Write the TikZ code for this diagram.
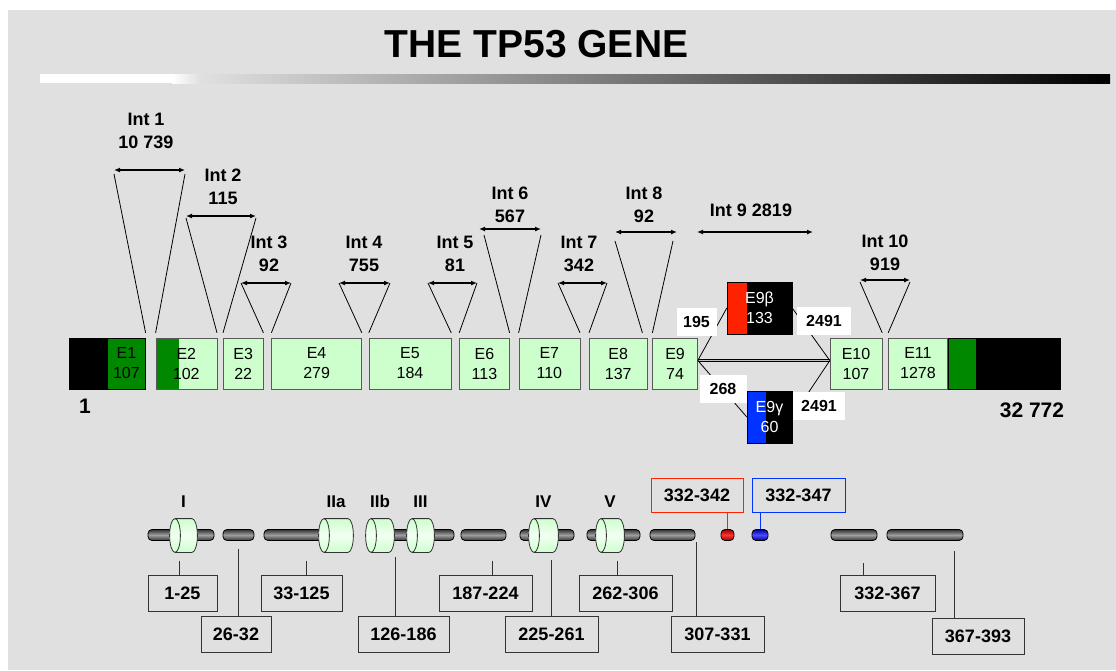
\documentclass[tikz,border=0pt]{standalone}
\usepackage{fontspec}
\setmainfont{Liberation Sans}
\definecolor{tpBack}{HTML}{E0E0E0}
\definecolor{tpExon}{HTML}{CCFFCC}
\definecolor{tpExonEnd}{HTML}{F2FFF2}
\definecolor{tpGreen}{HTML}{008800}
\definecolor{tpRed}{HTML}{FF2200}
\definecolor{tpBlue}{HTML}{0033FF}
\definecolor{tpLine}{HTML}{333333}
\usetikzlibrary{arrows.meta, positioning, shapes.geometric}

\begin{document}
\begin{tikzpicture}[x=1pt, y=-1pt,
  every node/.style={font=\fontsize{16}{20}\selectfont, align=center, inner sep=0pt},
  exon/.style={rectangle, draw=gray!70!black, fill=tpExon, minimum height=51pt},
  utr/.style={rectangle, draw=black, fill=black, minimum height=51pt},
  altex/.style={rectangle, draw=black, fill=black, text=white, minimum height=52pt},
  intlab/.style={font=\fontsize{18}{23}\selectfont\bfseries},
  span/.style={{Latex[length=6pt,width=5pt]}-{Latex[length=6pt,width=5pt]}, line width=1.3pt},
  vline/.style={line width=0.8pt},
  numbox/.style={fill=white, minimum height=28pt, font=\fontsize{16}{18}\selectfont\bfseries},
  rod/.style={rectangle, rounded corners=4pt, draw=black, line width=0.8pt, minimum height=11pt,
              top color=gray!40!black, bottom color=gray!40!black, middle color=gray!75},
  cyl/.style={rectangle, minimum height=35pt,
    path picture={
      \def\pb{path picture bounding box}
      \shadedraw[draw=gray!40!black, line width=0.8pt, top color=tpExon, bottom color=tpExon, middle color=tpExonEnd]
        ([xshift=6pt,yshift=-0.6pt]\pb.north west) -- ([xshift=-6pt,yshift=-0.6pt]\pb.north east)
        arc[start angle=90, end angle=-90, x radius=5.4pt, y radius=16.9pt]
        -- ([xshift=6pt,yshift=0.6pt]\pb.south west)
        arc[start angle=270, end angle=90, x radius=5.4pt, y radius=16.9pt] -- cycle;
      \draw[draw=gray!40!black, line width=0.8pt] ([xshift=6pt,yshift=-0.6pt]\pb.north west)
        arc[start angle=90, end angle=-90, x radius=5.4pt, y radius=16.9pt];
    }},
  domlab/.style={font=\fontsize{17}{20}\selectfont\bfseries},
  rangebox/.style={rectangle, draw=tpLine, line width=1pt, minimum height=36pt,
                   font=\fontsize{18}{20}\selectfont\bfseries},
  conn/.style={draw=tpLine, line width=1pt}
]
  % background and title bar
  \useasboundingbox (0,0) rectangle (1116,670);
  \fill[white] (0,0) rectangle (1116,670);
  \fill[tpBack] (8,10) rectangle (1116,670);
  \node[font=\fontsize{39}{44}\selectfont\bfseries] (title) at (536.5,44) {THE TP53 GENE};
  \fill[white] (40,74) rectangle (172,83);
  \shade[left color=white, right color=tpBack] (172,74) rectangle (200,83);
  \shade[left color=tpBack, right color=black] (200,74) rectangle (1110,83);

  % exons
  \node[utr, minimum width=38pt] (utr5) at (88,363.5) {};
  \node[exon, fill=tpGreen, draw=black, minimum width=38pt, right=0pt of utr5] (e1) {E1\\107};
  \node[exon, minimum width=61pt, right=10pt of e1,
        path picture={\fill[tpGreen] (path picture bounding box.north west) rectangle ([xshift=23pt]path picture bounding box.south west);}] (e2) {E2\\102};
  \node[exon, minimum width=40pt, right=6pt of e2] (e3) {E3\\22};
  \node[exon, minimum width=90pt, right=8pt of e3] (e4) {E4\\279};
  \node[exon, minimum width=82pt, right=7pt of e4] (e5) {E5\\184};
  \node[exon, minimum width=50pt, right=8pt of e5] (e6) {E6\\113};
  \node[exon, minimum width=61pt, right=9pt of e6] (e7) {E7\\110};
  \node[exon, minimum width=58pt, right=9pt of e7] (e8) {E8\\137};
  \node[exon, minimum width=45pt, right=5pt of e8] (e9) {E9\\74};
  \node[exon, minimum width=52pt] (e10) at (856,363.5) {E10\\107};
  \node[exon, minimum width=59pt, right=6pt of e10] (e11) {E11\\1278};
  \node[exon, fill=tpGreen, draw=black, minimum width=28pt, right=0pt of e11] (e11c) {};
  \node[utr, minimum width=84pt, right=0pt of e11c] (utr3) {};
  \node[altex, minimum width=65pt,
        path picture={\fill[tpRed] (path picture bounding box.north west) rectangle ([xshift=20pt]path picture bounding box.south west);}] (e9b) at (759.5,308) {E9β\\133};
  \node[altex, minimum width=45pt,
        path picture={\fill[tpBlue] (path picture bounding box.north west) rectangle ([xshift=19pt]path picture bounding box.south west);}] (e9g) at (769.5,417) {E9γ\\60};
  \node[font=\fontsize{21}{24}\selectfont\bfseries] (first) at (85,406) {1};
  \node[font=\fontsize{21}{24}\selectfont\bfseries] (last) at (1032,410) {32 772};

  % alternative splicing of intron 9
  \coordinate (hub) at ([yshift=3pt]e9.east);
  \coordinate (hub2) at ([yshift=3pt]e10.west);
  \draw[line width=0.7pt, double=gray!50, double distance=1.2pt] (hub) -- (hub2);
  \draw[vline] (hub) -- (e9b.west);
  \draw[vline] (hub) -- (e9g.west);
  \draw[vline] (e9b.east) -- (hub2);
  \draw[vline] (e9g.east) -- (hub2);
  \node[numbox, minimum width=40pt] (n195) at (696.5,322) {195};
  \node[numbox, minimum width=54pt] (n2491a) at (824,320.5) {2491};
  \node[numbox, minimum width=47pt] (n268) at (723,389) {268};
  \node[numbox, minimum width=52pt] (n2491b) at (819,405.5) {2491};

  % introns
  \node[intlab] (l1) at (146,130.5) {Int 1\\10 739};
  \coordinate (i1a) at (114,170); \coordinate (i1b) at (185,170);
  \draw[span] (i1a) -- (i1b);
  \draw[vline] ([yshift=-4pt]i1a) -- ([yshift=5pt]e1.north east);
  \draw[vline] ([yshift=-4pt]i1b) -- ([yshift=5pt]e2.north west);

  \node[intlab] (l2) at (223,186.5) {Int 2\\115};
  \coordinate (i2a) at (186,216); \coordinate (i2b) at (256,216);
  \draw[span] (i2a) -- (i2b);
  \draw[vline] ([yshift=-2pt]i2a) -- ([yshift=5pt]e2.north east);
  \draw[vline] ([yshift=-2pt]i2b) -- ([yshift=5pt]e3.north west);

  \node[intlab] (l3) at (269,254) {Int 3\\92};
  \coordinate (i3a) at (241,283); \coordinate (i3b) at (291,283);
  \draw[span] (i3a) -- (i3b);
  \draw[vline] (i3a) -- ([yshift=5pt]e3.north east);
  \draw[vline] (i3b) -- ([yshift=5pt]e4.north west);

  \node[intlab] (l4) at (364,254) {Int 4\\755};
  \coordinate (i4a) at (339,283); \coordinate (i4b) at (390,283);
  \draw[span] (i4a) -- (i4b);
  \draw[vline] (i4a) -- ([yshift=5pt]e4.north east);
  \draw[vline] (i4b) -- ([yshift=5pt]e5.north west);

  \node[intlab] (l5) at (455,254) {Int 5\\81};
  \coordinate (i5a) at (428,283); \coordinate (i5b) at (477,283);
  \draw[span] (i5a) -- (i5b);
  \draw[vline] (i5a) -- ([yshift=5pt]e5.north east);
  \draw[vline] (i5b) -- ([yshift=5pt]e6.north west);

  \node[intlab] (l6) at (510,205) {Int 6\\567};
  \coordinate (i6a) at (479,229); \coordinate (i6b) at (541,229);
  \draw[span] (i6a) -- (i6b);
  \draw[vline] ([xshift=5pt,yshift=-6pt]i6a) -- ([yshift=5pt]e6.north east);
  \draw[vline] ([yshift=-6pt]i6b) -- ([yshift=5pt]e7.north west);

  \node[intlab] (l7) at (579,254) {Int 7\\342};
  \coordinate (i7a) at (558,283); \coordinate (i7b) at (607,283);
  \draw[span] (i7a) -- (i7b);
  \draw[vline] (i7a) -- ([yshift=5pt]e7.north east);
  \draw[vline] (i7b) -- ([yshift=5pt]e8.north west);

  \node[intlab] (l8) at (644,205) {Int 8\\92};
  \coordinate (i8a) at (615,232); \coordinate (i8b) at (677,232);
  \draw[span] (i8a) -- (i8b);
  \draw[vline] ([yshift=-9pt]i8a) -- ([xshift=-5pt,yshift=5pt]e8.north east);
  \draw[vline] ([xshift=-4pt,yshift=-9pt]i8b) -- ([yshift=5pt]e9.north west);

  \node[intlab] (l9) at (751,210) {Int 9 2819};
  \coordinate (i9a) at (697,232); \coordinate (i9b) at (813,232);
  \draw[span] (i9a) -- (i9b);

  \node[intlab] (l10) at (885,252.5) {Int 10\\919};
  \coordinate (i10a) at (860,280); \coordinate (i10b) at (910,280);
  \draw[span] (i10a) -- (i10b);
  \draw[vline] ([yshift=-2pt]i10a) -- ([yshift=5pt]e10.north east);
  \draw[vline] ([yshift=-2pt]i10b) -- ([yshift=5pt]e11.north west);

  % protein domains
  \node[rod, minimum width=66pt] (r1) at (181,535) {};
  \node[rod, minimum width=31pt] (r2) at (238.5,535) {};
  \node[rod, minimum width=72pt] (r3) at (300,535) {};
  \node[rod, minimum width=74pt] (r4) at (417,535) {};
  \node[rod, minimum width=45pt] (r5) at (483.5,535) {};
  \node[rod, minimum width=54pt] (r6) at (547,535) {};
  \node[rod, minimum width=53pt] (r7) at (613.5,535) {};
  \node[rod, minimum width=45pt] (r8) at (672.5,535) {};
  \node[rod, minimum width=13pt, top color=red!60!black, bottom color=red!60!black, middle color=red!80] (rr) at (727.5,535) {};
  \node[rod, minimum width=16pt, top color=blue!60!black, bottom color=blue!60!black, middle color=blue!70] (rb) at (760,535) {};
  \node[rod, minimum width=46pt] (r9) at (854,535) {};
  \node[rod, minimum width=76pt] (r10) at (925,535) {};

  \node[cyl, minimum width=29pt] (c1) at (183.5,535.5) {};
  \node[cyl, minimum width=36pt] (c2a) at (336,535.5) {};
  \node[cyl, minimum width=30pt] (c2b) at (380,535.5) {};
  \node[cyl, minimum width=29pt] (c3) at (420.5,535.5) {};
  \node[cyl, minimum width=31pt] (c4) at (543.5,535.5) {};
  \node[cyl, minimum width=30pt] (c5) at (610,535.5) {};
  \node[domlab, above=10pt of c1] (d1) {I};
  \node[domlab, above=10pt of c2a] (d2a) {IIa};
  \node[domlab, above=10pt of c2b] (d2b) {IIb};
  \node[domlab, above=10pt of c3] (d3) {III};
  \node[domlab, above=10pt of c4] (d4) {IV};
  \node[domlab, above=10pt of c5] (d5) {V};

  \node[rangebox, minimum width=69pt] (b1) at (182.5,593) {1-25};
  \node[rangebox, minimum width=70pt] (b2) at (236,634) {26-32};
  \node[rangebox, minimum width=81pt] (b3) at (301.5,593) {33-125};
  \node[rangebox, minimum width=91pt] (b4) at (403.5,634) {126-186};
  \node[rangebox, minimum width=93pt] (b5) at (485.5,593) {187-224};
  \node[rangebox, minimum width=93pt] (b6) at (551.5,634) {225-261};
  \node[rangebox, minimum width=93pt] (b7) at (625.5,593) {262-306};
  \node[rangebox, minimum width=93pt] (b8) at (717.5,634) {307-331};
  \node[rangebox, minimum width=95pt] (b9) at (887.5,593) {332-367};
  \node[rangebox, minimum width=92pt] (b10) at (978,636) {367-393};
  \node[rangebox, draw=tpRed, minimum width=92pt, minimum height=34pt] (br) at (697,495) {332-342};
  \node[rangebox, draw=tpBlue, minimum width=93pt, minimum height=34pt] (bb) at (798.5,495) {332-347};

  \coordinate (k1) at (179,561);  \draw[conn] (k1) -- (k1 |- b1.north);
  \coordinate (k2) at (238,549);  \draw[conn] (k2) -- (k2 |- b2.north);
  \coordinate (k3) at (306,561);  \draw[conn] (k3) -- (k3 |- b3.north);
  \coordinate (k4) at (395,557);  \draw[conn] (k4) -- (k4 |- b4.north);
  \coordinate (k5) at (492,561);  \draw[conn] (k5) -- (k5 |- b5.north);
  \coordinate (k6) at (551,560);  \draw[conn] (k6) -- (k6 |- b6.north);
  \coordinate (k7) at (617,561);  \draw[conn] (k7) -- (k7 |- b7.north);
  \coordinate (k8) at (696,542);  \draw[conn] (k8) -- (k8 |- b8.north);
  \coordinate (k9) at (863,563);  \draw[conn] (k9) -- (k9 |- b9.north);
  \coordinate (k10) at (954,551); \draw[conn] (k10) -- (k10 |- b10.north);
  \draw[conn, draw=tpRed] (rr.north) -- (rr.north |- br.south);
  \draw[conn, draw=tpBlue] (rb.north) -- (rb.north |- bb.south);
\end{tikzpicture}
\end{document}
